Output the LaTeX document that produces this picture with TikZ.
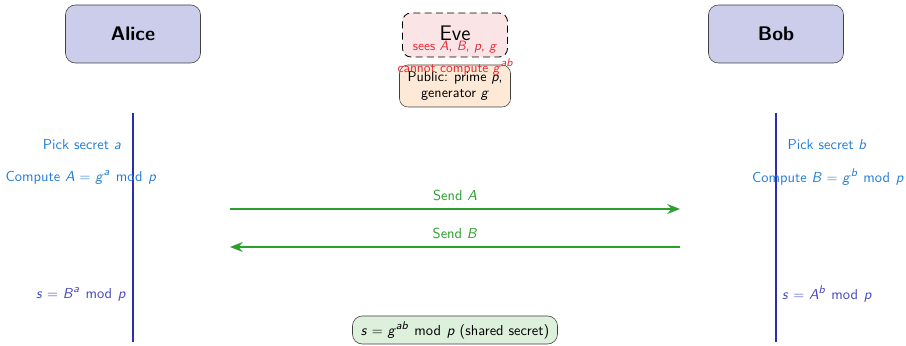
\documentclass[tikz,border=0pt]{standalone}
\usetikzlibrary{arrows.meta}
\definecolor{partyfill}{RGB}{204,204,235}
\definecolor{evefill}{RGB}{250,228,230}
\definecolor{pubfill}{RGB}{253,233,214}
\definecolor{secfill}{RGB}{220,240,220}
\definecolor{lifeblue}{RGB}{45,45,175}
\definecolor{stepblue}{RGB}{35,125,215}
\definecolor{resblue}{RGB}{70,70,190}
\definecolor{msggreen}{RGB}{44,160,44}
\definecolor{evered}{RGB}{230,40,50}
% sans oblique variables and exponents
\newcommand{\vr}[1]{\textit{#1}}
\newcommand{\ex}[1]{\raisebox{0.42em}{\fontsize{8}{9}\selectfont\itshape #1}}
\newcommand{\eq}{\ $=$\ }
\newcommand{\md}{\hspace{0.45em}mod\hspace{0.4em}}
\newdimen\pxu
\pxu=0.025cm
\tikzset{
  party/.style={draw=black!75, fill=partyfill, rounded corners=7pt, minimum width=135\pxu, minimum height=58\pxu, font=\sffamily\bfseries\fontsize{14}{16}\selectfont},
  evebox/.style={draw=black, dash pattern=on 5pt off 3pt, line width=0.6pt, fill=evefill, rounded corners=6pt, minimum width=105\pxu, minimum height=44\pxu},
  pubbox/.style={draw=black!75, fill=pubfill, rounded corners=6pt, minimum width=111\pxu, minimum height=42\pxu, align=center, font=\sffamily\fontsize{10}{11.5}\selectfont, inner sep=1pt},
  secbox/.style={draw=black!75, fill=secfill, rounded corners=7pt, minimum width=205\pxu, minimum height=28\pxu, font=\sffamily\fontsize{10.3}{12}\selectfont},
  lifeline/.style={draw=lifeblue, line width=1.2pt},
  steptext/.style={text=stepblue, font=\sffamily\fontsize{10.3}{12}\selectfont},
  restext/.style={text=resblue, font=\sffamily\fontsize{10.3}{12}\selectfont},
  msg/.style={draw=msggreen, line width=1.3pt, -{Stealth[length=9pt,width=7pt]}},
  msglabel/.style={text=msggreen, font=\sffamily\fontsize{10.3}{12}\selectfont},
  evetext/.style={text=evered, font=\sffamily\fontsize{9.6}{11}\selectfont, inner sep=0pt},
}
\begin{document}
\begin{tikzpicture}[x=0.025cm, y=-0.025cm]
\useasboundingbox (0,0) rectangle (906,346);
% participants
\node[party] (alice) at (133,34) {Alice};
\node[party] (bob) at (776,34) {Bob};
\node[evebox] (eve) at (455,35) {};
\node[font=\sffamily\fontsize{15}{17}\selectfont] (evename) at (455,33) {Eve};
\node[evetext] (sees) at (455,47) {sees \vr{A}, \vr{B}, \vr{p}, \vr{g}};
\node[pubbox] (public) at (455,86) {Public: prime \vr{p},\\ generator \vr{g}};
\node[evetext] (cannot) at (455,67) {cannot compute \vr{g}\ex{ab}};
% lifelines
\coordinate (atop) at (133,113);
\coordinate (abot) at (133,342);
\coordinate (btop) at (776,113);
\coordinate (bbot) at (776,342);
\draw[lifeline] (atop) -- (abot);
\draw[lifeline] (btop) -- (bbot);
% local steps
\node[steptext] (apick) at (82,145) {Pick secret \vr{a}};
\node[steptext] (acomp) at (81,177) {Compute \vr{A}\eq\vr{g}\ex{a}\md\vr{p}};
\node[steptext] (bpick) at (827,145) {Pick secret \vr{b}};
\node[steptext] (bcomp) at (828,177) {Compute \vr{B}\eq\vr{g}\ex{b}\md\vr{p}};
% messages
\coordinate (m1s) at (230,209);
\coordinate (m1e) at (680,209);
\coordinate (m2s) at (680,247);
\coordinate (m2e) at (230,247);
\draw[msg] (m1s) -- node[msglabel, above=2pt] (sendA) {Send \vr{A}} (m1e);
\draw[msg] (m2s) -- node[msglabel, above=2pt] (sendB) {Send \vr{B}} (m2e);
% results
\node[restext] (ares) at (81,294) {\vr{s}\eq\vr{B}\ex{a}\md\vr{p}};
\node[restext] (bres) at (827,294) {\vr{s}\eq\vr{A}\ex{b}\md\vr{p}};
\node[secbox] (secret) at (455,330) {\vr{s}\eq\vr{g}\ex{ab}\md\vr{p} (shared secret)};
\end{tikzpicture}
\end{document}
